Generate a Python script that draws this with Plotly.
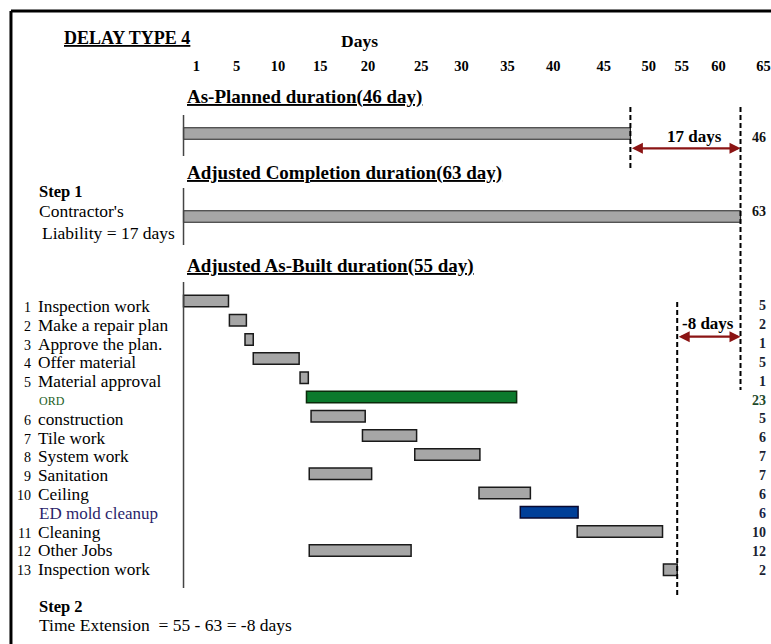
import plotly.graph_objects as go

# ---------------- data ----------------
tasks = ["Inspection work", "Make a repair plan", "Approve the plan.", "Offer material",
         "Material approval", "ORD", "construction", "Tile work", "System work",
         "Sanitation", "Ceiling", "ED mold cleanup", "Cleaning", "Other Jobs",
         "Inspection work"]
task_numbers = ["1", "2", "3", "4", "5", "", "6", "7", "8", "9", "10", "", "11", "12", "13"]
# start / end as drawn on the day scale of the diagram
task_start = [0.0, 5.0, 6.7, 7.6, 12.7, 13.4, 13.9, 19.5, 25.2, 13.7, 32.2, 36.7, 42.9, 13.7, 52.3]
task_end = [4.9, 6.85, 7.6, 12.6, 13.6, 36.3, 19.8, 25.4, 32.3, 20.5, 37.8, 43.0, 52.2, 24.8, 53.8]
task_duration_labels = ["5", "2", "1", "5", "1", "23", "5", "6", "7", "7", "6", "6", "10", "12", "2"]
task_kind = ["work", "work", "work", "work", "work", "ord", "work", "work", "work",
             "work", "work", "ed", "work", "work", "work"]

summary_names = ["As-Planned", "Adjusted Completion"]
summary_start = [0.0, 0.0]
summary_end = [48.7, 60.7]
summary_labels = ["46", "63"]

day_tick_labels = ["1", "5", "10", "15", "20", "25", "30", "35", "40", "45", "50", "55", "60", "65"]
day_tick_pos = [1.4, 5.8, 10.3, 14.9, 20.1, 25.9, 30.3, 35.3, 40.3, 45.8, 50.7, 54.3, 58.3, 63.2]

# ---------------- layout helpers ----------------
W, H = 771, 644
PLOT_TOP = 75                # pixel of plot area top
X0, SX = 184.0, 9.2          # pixel of day 0, pixels per day
R0, SR = 301.0, 19.2         # pixel of row 0, pixels per row
SERIF = "Liberation Serif, Times New Roman, serif"


def PX(px):
    return px / W


def PY(py):
    return (H - py) / (H - PLOT_TOP)


def RY(py):
    return (py - R0) / SR


colors = {"work": "#a6a6a6", "ord": "#0b7a2c", "ed": "#003f99"}
edge = {"work": "#1a1a1a", "ord": "#0a2a0a", "ed": "#0a0a30"}

fig = go.Figure()

rows = list(range(len(tasks)))
fig.add_trace(go.Bar(
    orientation="h", y=rows, base=task_start,
    x=[e - s for s, e in zip(task_start, task_end)],
    width=0.6,
    marker=dict(color=[colors[k] for k in task_kind],
                line=dict(color=[edge[k] for k in task_kind], width=1.5)),
    hoverinfo="skip", showlegend=False,
))

summary_rows = [RY(133.5), RY(216.5)]
fig.add_trace(go.Bar(
    orientation="h", y=summary_rows, base=summary_start,
    x=[e - s for s, e in zip(summary_start, summary_end)],
    width=0.6,
    marker=dict(color="#a6a6a6", line=dict(color="#222222", width=1.2)),
    hoverinfo="skip", showlegend=False,
))

shapes = []
# outer frame
shapes.append(dict(type="line", xref="paper", yref="paper", x0=PX(11), x1=PX(790),
                   y0=PY(11), y1=PY(11), line=dict(color="black", width=3)))
shapes.append(dict(type="line", xref="paper", yref="paper", x0=PX(11), x1=PX(11),
                   y0=PY(11), y1=PY(660), line=dict(color="black", width=3)))
# thin vertical start lines
for a, b in [(115, 156), (188, 245), (282, 588)]:
    shapes.append(dict(type="line", xref="x", yref="paper", x0=0, x1=0,
                       y0=PY(a), y1=PY(b), line=dict(color="#444444", width=1.5)))
# dashed reference lines
planned_end, adjusted_end, built_end = summary_end[0], summary_end[1], task_end[-1]
for xv, a, b in [(planned_end, 107, 170), (adjusted_end, 107, 390), (built_end, 302, 598)]:
    shapes.append(dict(type="line", xref="x", yref="paper", x0=xv, x1=xv,
                       y0=PY(a), y1=PY(b), line=dict(color="black", width=2, dash="5px,3px")))

ann = []


def text(px, py, s, size=16, bold=False, color="black", anchor="left"):
    if bold:
        s = "<b>" + s + "</b>"
    ann.append(dict(xref="paper", yref="paper", x=PX(px), y=PY(py), text=s,
                    showarrow=False, xanchor=anchor, yanchor="middle",
                    font=dict(family=SERIF, size=size, color=color)))


text(62, 38, "<u>DELAY TYPE 4</u>", 18, True)
text(340, 41, "Days", 17.5, True)
text(185, 97, "<u>As-Planned duration(46 day)</u>", 19, True)
text(185, 173, "<u>Adjusted Completion duration(63 day)</u>", 19, True)
text(185, 266, "<u>Adjusted As-Built duration(55 day)</u>", 19, True)

text(37, 192, "Step 1", 16.5, True)
text(37, 211, "Contractor's", 17.5)
text(40, 233, "Liability = 17 days", 17.5)
text(37, 606, "Step 2", 16.5, True)
text(37, 625, "Time Extension  = 55 - 63 = -8 days", 17.5)

text(696, 136, "17 days", 17, True, anchor="center")
text(710, 323, "-8 days", 17, True, anchor="center")

for lab, py in zip(summary_labels, [137, 211]):
    text(770, py, lab, 14, True, "#111111", "right")

label_colors = {"work": "black", "ord": "#1d5e1d", "ed": "#2b1f6b"}
right_colors = {"work": "#1a1f33", "ord": "#1e4a2a", "ed": "#1a1f4a"}
for i, (name, num, dur, kind) in enumerate(zip(tasks, task_numbers, task_duration_labels, task_kind)):
    py = 306.5 + 18.8 * i
    if num:
        text(33, py + 1, num, 14, False, "black", "right")
    if kind == "work":
        text(36, py, name, 17.3, False, label_colors[kind])
    elif kind == "ord":
        text(37, py, name, 12, False, label_colors[kind])
    else:
        text(37, py, name, 17, False, label_colors[kind])
    text(770, 305.7 + 18.88 * i, dur, 14, True, right_colors[kind], "right")

# double-headed arrows
for xa, xb, py in [(planned_end, adjusted_end, 148.3), (built_end, adjusted_end, 336.7)]:
    ann.append(dict(xref="x", yref="y", x=xb, y=RY(py), axref="x", ayref="y", ax=xa, ay=RY(py),
                    text="", showarrow=True, arrowside="end+start", arrowhead=2,
                    startarrowhead=2, arrowsize=1, startarrowsize=1,
                    arrowwidth=2.2, arrowcolor="#8b1414"))

fig.update_layout(
    width=W, height=H,
    margin=dict(l=0, r=0, t=PLOT_TOP, b=0),
    paper_bgcolor="white", plot_bgcolor="white",
    barmode="overlay",
    showlegend=False,
    xaxis=dict(range=[-X0 / SX, (W - X0) / SX], side="top", showgrid=False,
               zeroline=False, showline=False, ticks="",
               tickvals=day_tick_pos, ticktext=["<b>" + t + "</b>" for t in day_tick_labels],
               tickfont=dict(family=SERIF, size=14.5, color="black"),
               ticklabelstandoff=0, ticklabeloverflow="allow"),
    yaxis=dict(range=[RY(H), RY(PLOT_TOP)], showgrid=False, zeroline=False,
               showline=False, showticklabels=False, ticks=""),
    shapes=shapes,
    annotations=ann,
)

# remove the default page margin so the figure fills the window exactly
fig.write_html("out.html", config={"displayModeBar": False},
               post_script="document.body.style.margin='0';document.body.style.overflow='hidden';")
